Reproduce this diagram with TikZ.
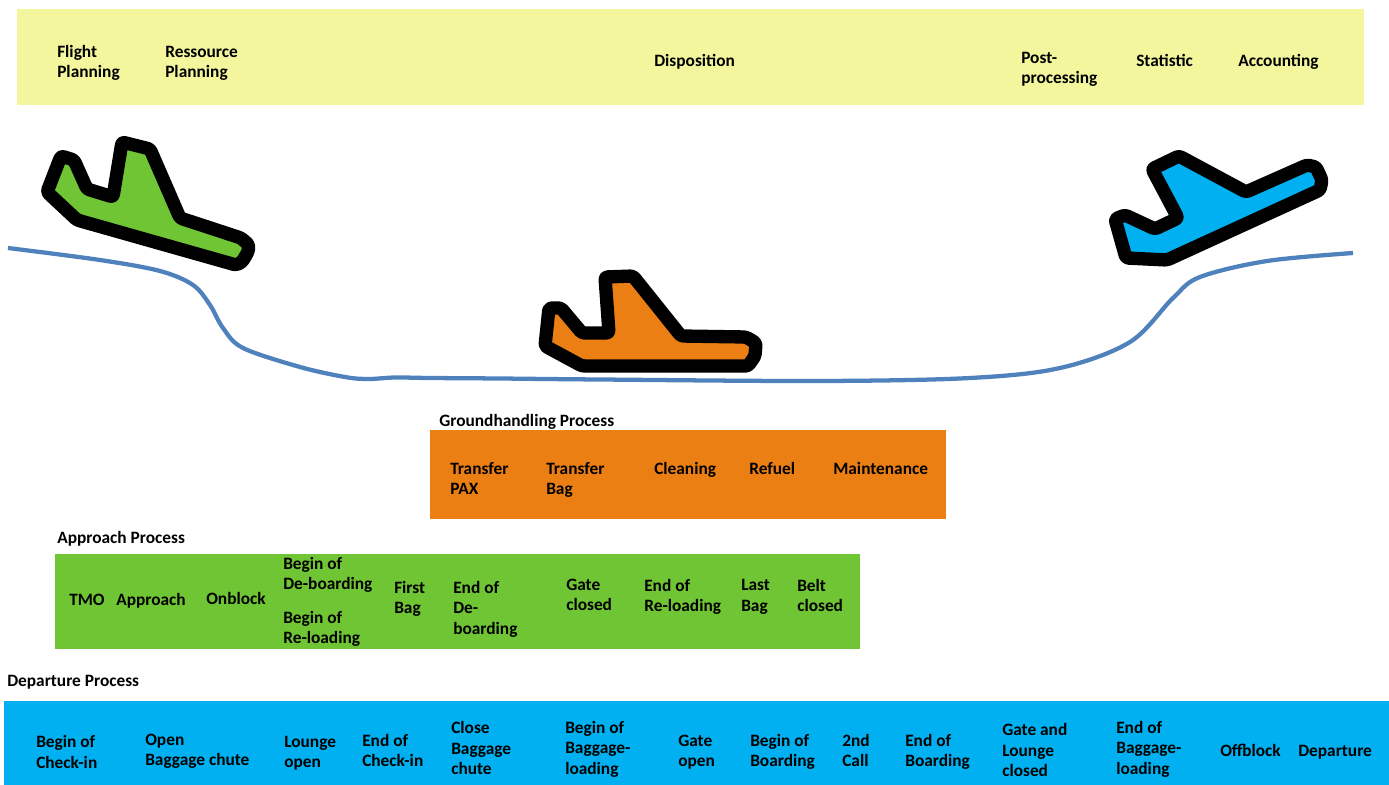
\documentclass[tikz,border=0pt]{standalone}
\usepackage{fontspec}
\setmainfont{Carlito}
\definecolor{topyellow}{HTML}{F3F69C}
\definecolor{groundorange}{HTML}{EC7F13}
\definecolor{approachgreen}{HTML}{70C535}
\definecolor{departblue}{HTML}{00B0F0}
\definecolor{runway}{HTML}{4F81BD}
\tikzset{
  label/.style={anchor=west,align=left,inner sep=0pt,font=\fontsize{13}{15.3}\selectfont\bfseries},
  plane/.style={draw=black,line width=10pt,line join=round,rounded corners=2pt},
}
\begin{document}
\begin{tikzpicture}[x=0.75pt,y=-0.75pt]
  \useasboundingbox (0,0) rectangle (1389,785);
  \fill[topyellow] (17,9) rectangle (1364,105);
  \fill[groundorange] (430,430) rectangle (946,519);
  \fill[approachgreen] (55,554) rectangle (860,649);
  \fill[departblue] (4,701) rectangle (1389,785);

  \draw[runway,line width=3.2pt] plot[smooth,tension=0.55] coordinates {(8,248) (100,260) (160,271) (193,285) (210,305) (223,328) (243,348) (300,367) (345,377) (368,379) (395,377.5) (430,378) (500,378.5) (600,379.5) (820,381) (970,378) (1060,368) (1130,342) (1173,298) (1200,277) (1267,261) (1353,253)};

  \filldraw[plane,fill=approachgreen] (47,192) -- (61,156) -- (74,160) -- (87,189) -- (113,197) -- (122,142) -- (150,149) -- (180,218) -- (241,238) -- (249,245) -- (248,252) -- (242,262) -- (236,265) -- (77,220) -- cycle; % landing
  \filldraw[plane,fill=groundorange] (545,346) -- (549,308) -- (561,308) -- (582,333) -- (609,333) -- (605,277) -- (633,276) -- (681,336) -- (746,337) -- (756,343) -- (755,356) -- (748,366) -- (582,366) -- cycle; % parked
  \filldraw[plane,fill=departblue] (1115,219) -- (1125,215) -- (1155,229) -- (1178,218) -- (1152,169) -- (1179,156) -- (1246,192) -- (1307,165) -- (1316,167) -- (1322,180) -- (1320,190) -- (1167,260) -- (1126,258) -- cycle; % take-off

  % planning
  \foreach \n/\x/\y/\txt in {flight/57/63/{Flight\\Planning},ressource/165/63.5/{Ressource\\Planning},disposition/654/62/{Disposition},postproc/1021/69.5/{Post-\\processing},statistic/1136/60/{Statistic},accounting/1238/62/{Accounting}}
    \node[label] (\n) at (\x,\y) {\txt};

  % groundhandling
  \node[label] (groundtitle) at (439,421.5) {Groundhandling Process};
  \foreach \n/\x/\y/\txt in {pax/450/478.5/{Transfer\\PAX},bag/546/480/{Transfer\\Bag},cleaning/654/470/{Cleaning},refuel/749/468/{Refuel},maintenance/833/468/{Maintenance}}
    \node[label] (\n) at (\x,\y) {\txt};

  % approach
  \node[label] (approachtitle) at (57,539) {Approach Process};
  \foreach \n/\x/\y/\txt in {tmo/69/600/{TMO},approach/116/601/{Approach},onblock/206/598.5/{Onblock},bdeboard/283/575/{Begin of\\De-boarding},breload/283/629/{Begin of\\Re-loading},firstbag/394/599/{First\\Bag},edeboard/453/609/{End of\\De-\\boarding},gateclosed/566/595/{Gate\\closed},ereload/644/597/{End of\\Re-loading},lastbag/741/597/{Last\\Bag},beltclosed/797/595.5/{Belt\\closed}}
    \node[label] (\n) at (\x,\y) {\txt};

  % departure
  \node[label] (departuretitle) at (7,682) {Departure Process};
  \foreach \n/\x/\y/\txt in {checkin/36/752/{Begin of\\Check-in},chute/145/751.5/{Open\\Baggage chute},lounge/284/753/{Lounge\\open},echeckin/362/750.5/{End of\\Check-in},closechute/451/748/{Close\\Baggage\\chute},bloading/565/749/{Begin of\\Baggage-\\loading},gateopen/678/752/{Gate\\open},bboarding/750/752/{Begin of\\Boarding},call/842/750.5/{2nd\\Call},eboarding/905/752/{End of\\Boarding},gatelounge/1002/750/{Gate and\\Lounge\\closed},eloading/1116/749/{End of\\Baggage-\\loading},offblock/1220/750/{Offblock},departure/1298/752/{Departure}}
    \node[label] (\n) at (\x,\y) {\txt};
\end{tikzpicture}
\end{document}
